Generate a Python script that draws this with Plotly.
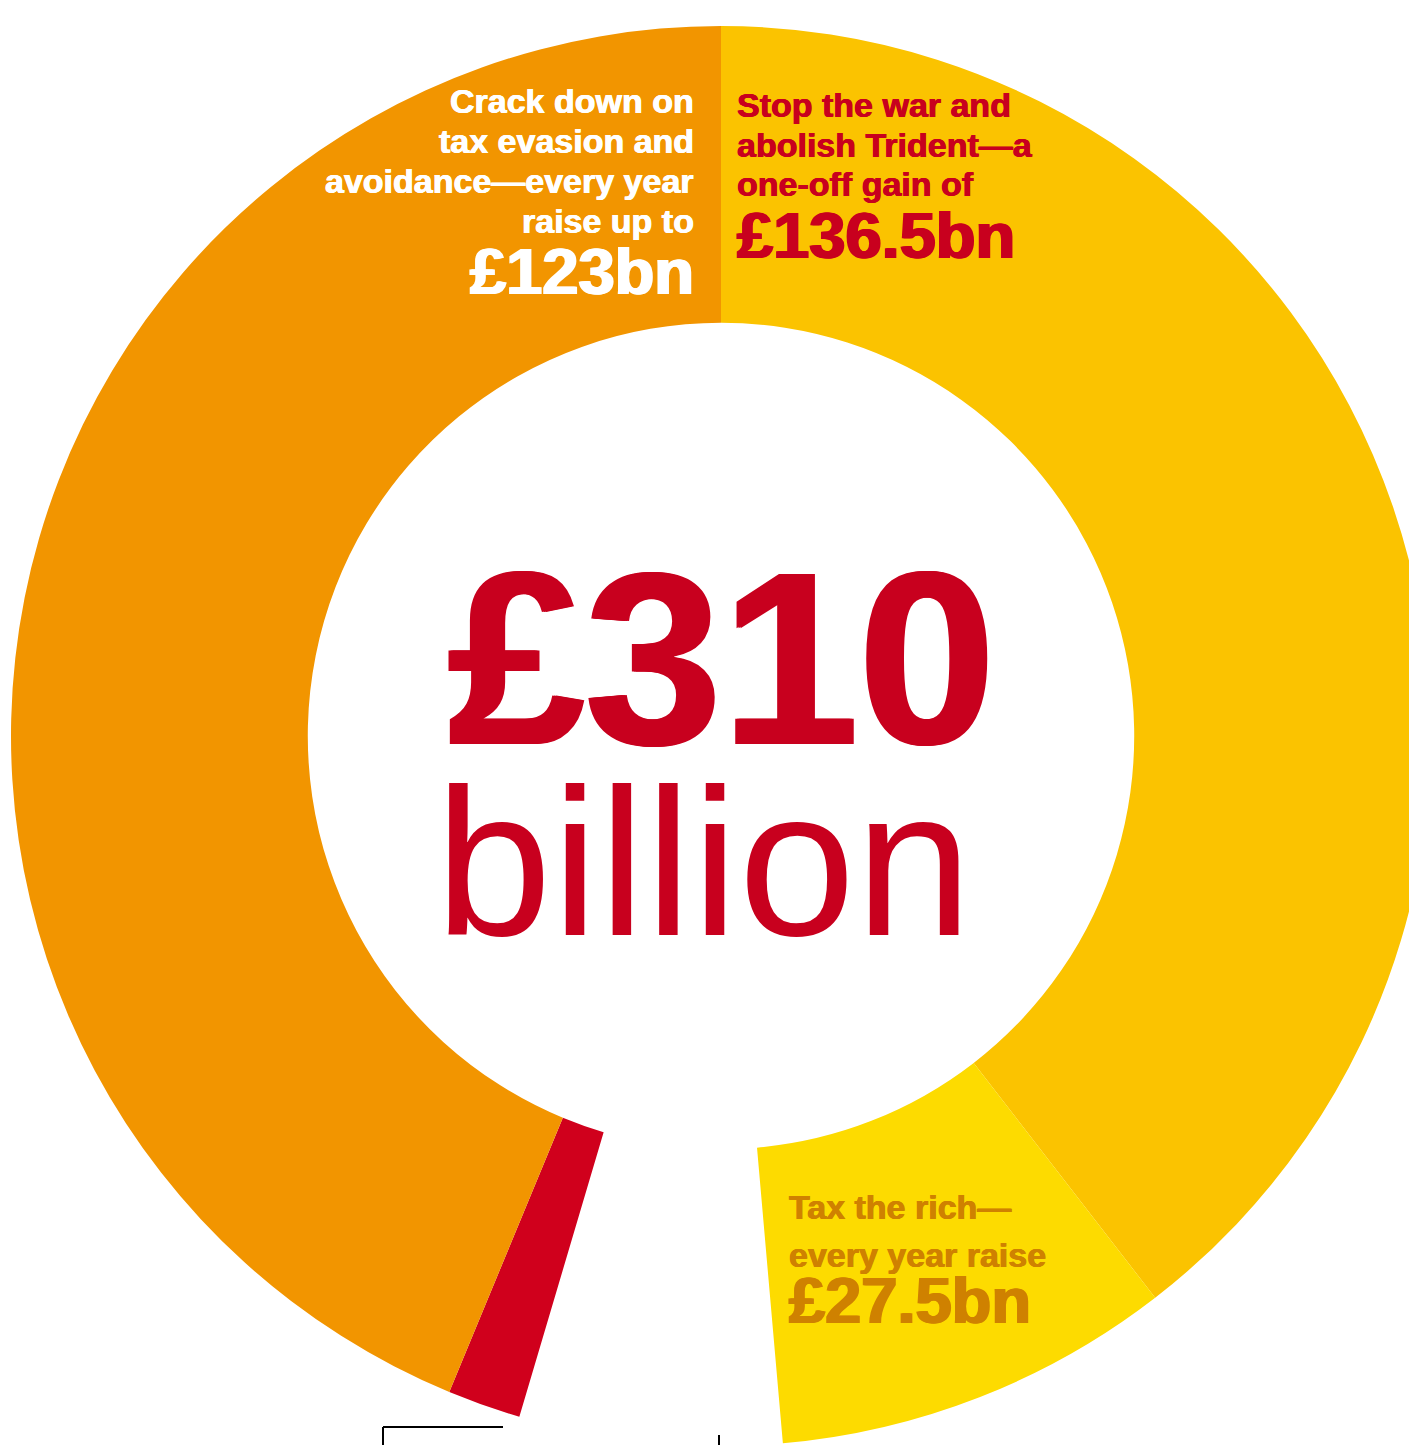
import plotly.graph_objects as go

# page draws the figure 8px in from the top-left corner (browser body margin)
OFF = 8
W, H = 1440, 1480

# ---- data ----
# slice shares as drawn (degrees of the ring, clockwise from 12 o'clock)
categories = ["Stop the war and abolish Trident", "Tax the rich", "gap", "Other", "Crack down on tax evasion and avoidance"]
arc_share = [142.3, 32.7, 21.5, 6.0, 157.5]
slice_colors = ["#fbc300", "#fddb00", "rgba(0,0,0,0)", "#d0001c", "#f29500"]
amount_labels = ["£136.5bn", "£27.5bn", "", "", "£123bn"]
total_label = "£310"
total_unit = "billion"

RED = "#c8001e"
GOLD = "#cf8100"
FONT = "Liberation Sans, Arial, sans-serif"


def px(x):
    return (x - OFF) / W


def py(y):
    return 1 - (y - OFF) / H


cx, cy, R = 721, 736, 710

fig = go.Figure(go.Pie(
    labels=categories,
    values=arc_share,
    marker=dict(colors=slice_colors, line=dict(width=0)),
    sort=False,
    direction="clockwise",
    rotation=0,
    hole=0.582,
    textinfo="none",
    hoverinfo="skip",
    showlegend=False,
    domain=dict(x=[px(cx - R), px(cx + R)], y=[py(cy + R), py(cy - R)]),
))

ann = []


def add(text, x, y, size, color, anchor, bold=True, thick=0.0):
    f = dict(family=FONT, size=size, color=color)
    if thick:
        f["shadow"] = f"{thick}px 0 0 {color}, -{thick}px 0 0 {color}"
    ann.append(dict(
        text=f"<b>{text}</b>" if bold else text,
        x=px(x), y=py(y), xref="paper", yref="paper",
        xanchor=anchor, yanchor="middle", showarrow=False,
        font=f,
    ))


# orange slice
for t, yy in zip(["Crack down on", "tax evasion and", "avoidance\u2014every year", "raise up to"],
                 [101, 141, 181, 221]):
    add(t, 696, yy, 34, "white", "right", thick=0.5)
add(amount_labels[4], 696, 272, 65, "white", "right", thick=1.2)

# yellow slice
for t, yy in zip(["Stop the war and", "abolish Trident\u2014a", "one-off gain of"], [105, 145, 184]):
    add(t, 735, yy, 34, RED, "left", thick=0.5)
add(amount_labels[0], 735, 235, 65, RED, "left", thick=1.2)

# tax the rich slice
for t, yy in zip(["Tax the rich\u2014", "every year raise"], [1207, 1255]):
    add(t, 787, yy, 34, GOLD, "left", thick=0.5)
add(amount_labels[1], 787, 1300, 65, GOLD, "left", thick=1.2)

# centre
add(total_label, 721, 658, 246, RED, "center", thick=2)
ann.append(dict(
    text=total_unit, x=px(703), y=py(862), xref="paper", yref="paper",
    xanchor="center", yanchor="middle", showarrow=False,
    font=dict(family=FONT, size=210, color=RED),
))

shapes = [
    dict(type="line", xref="paper", yref="paper", x0=px(383), y0=py(1427), x1=px(503), y1=py(1427),
         line=dict(color="black", width=2)),
    dict(type="line", xref="paper", yref="paper", x0=px(383), y0=py(1427), x1=px(383), y1=py(1460),
         line=dict(color="black", width=2)),
    dict(type="line", xref="paper", yref="paper", x0=px(719), y0=py(1435), x1=px(719), y1=py(1460),
         line=dict(color="black", width=2)),
]

fig.update_layout(
    width=W, height=H,
    margin=dict(l=0, r=0, t=0, b=0),
    paper_bgcolor="white", plot_bgcolor="white",
    annotations=ann, shapes=shapes,
    hovermode=False,
)

fig.write_html("out.html")
